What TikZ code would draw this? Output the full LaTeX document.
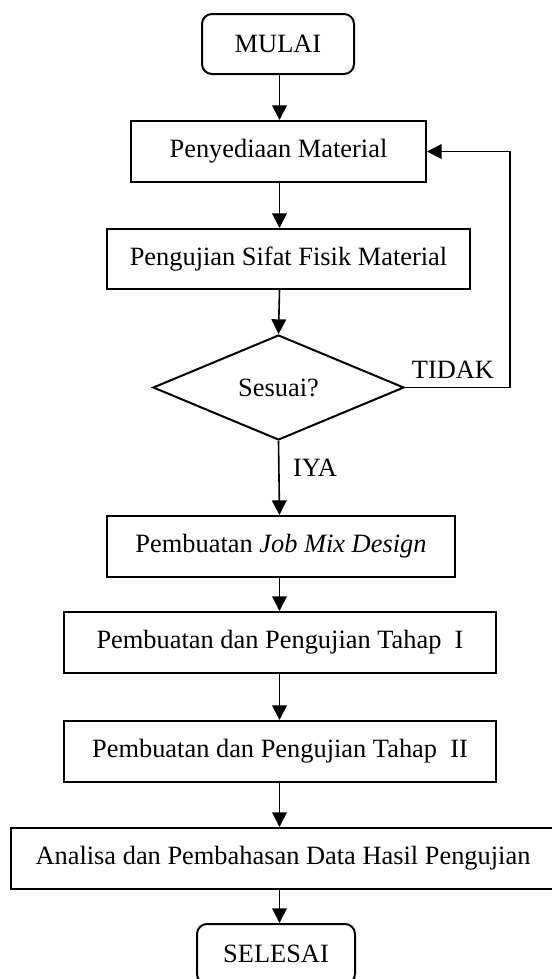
\documentclass[tikz,border=0pt]{standalone}
\usepackage{fontspec}
\setmainfont{Liberation Serif}
\usetikzlibrary{arrows.meta, shapes.geometric}

\def\unitpx{0.75pt}

\begin{document}
\begin{tikzpicture}[
		x=0.75pt, y=-0.75pt,
		every node/.style={font=\fontsize{19.8}{24}\selectfont, inner sep=0pt},
		proses/.style={rectangle, draw, line width=1.5pt, minimum height=61*\unitpx},
		terminal/.style={proses, rounded corners=7.5pt, minimum height=60*\unitpx},
		keputusan/.style={diamond, draw, line width=1.5pt, minimum width=251*\unitpx, minimum height=105*\unitpx},
		arr/.style={line width=1.2pt, -{Triangle[length=11pt, width=11pt]}}
	]
  \useasboundingbox (0, 0) rectangle (552, 979);
  \coordinate (axis) at (279.5, 0);
  \node (mulai) [terminal, minimum width=152*\unitpx] at (278, 44) {MULAI};
  \node (penyediaan) [proses, minimum width=295*\unitpx] at (278.5, 151.5) {Penyediaan Material};
  \node (pengujian) [proses, minimum width=363*\unitpx, minimum height=60*\unitpx] at (288.5, 259) {Pengujian Sifat Fisik Material};
  \node (sesuai) [keputusan] at (278.5, 387.5) {Sesuai?};
  \node (jmd) [proses, minimum width=348*\unitpx] at (281, 546.5) {Pembuatan \textit{Job Mix Design}};
  \node (tahap1) [proses, minimum width=432*\unitpx] at (280, 642.5) {Pembuatan dan Pengujian Tahap\ \ I};
  \node (tahap2) [proses, minimum width=432*\unitpx] at (280, 751.5) {Pembuatan dan Pengujian Tahap\ \ II};
  \node (analisa) [proses, minimum width=544*\unitpx] at (283, 858.5) {Analisa dan Pembahasan Data Hasil Pengujian};
  \node (selesai) [terminal, minimum width=158*\unitpx] at (276, 954) {SELESAI};
  \node (tidak) at (453, 370) {TIDAK};
  \node (iya) at (315, 468) {IYA};
  \coordinate (balik) at (510, 270);
  \draw[arr] (mulai.south -| axis) -- (penyediaan.north -| axis);
  \draw[arr] (penyediaan.south -| axis) -- (pengujian.north -| axis);
  \draw[arr] (pengujian.south -| axis) -- (sesuai.north);
  \draw[arr] (sesuai.south) -- (jmd.north -| axis);
  \draw[arr] (jmd.south -| axis) -- (tahap1.north -| axis);
  \draw[arr] (tahap1.south -| axis) -- (tahap2.north -| axis);
  \draw[arr] (tahap2.south -| axis) -- (analisa.north -| axis);
  \draw[arr] (analisa.south -| axis) -- (selesai.north -| axis);
  \draw[arr] (sesuai.east) -| (balik) |- (penyediaan.east);
\end{tikzpicture}
\end{document}
